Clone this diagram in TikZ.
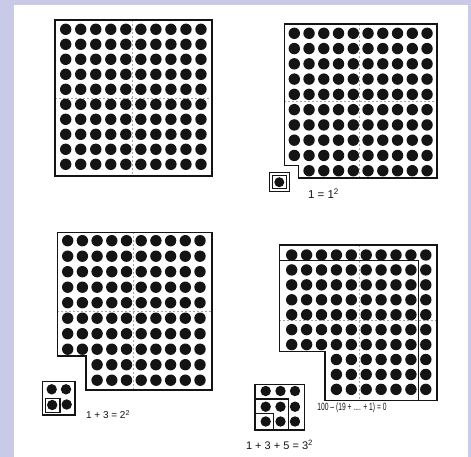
\documentclass[tikz,border=0pt]{standalone}
\usepackage{graphicx}
\usepackage{fontspec}
\setmainfont{Liberation Sans}
\definecolor{lav}{HTML}{C8CAE8}
\definecolor{ink}{HTML}{141414}
\tikzset{
  outline/.style={ink, line width=1.5pt, line join=miter},
  guide/.style={gray!70, line width=0.7pt, dash pattern=on 2pt off 2pt},
  thin/.style={ink, line width=1.1pt},
  lbl/.style={inner sep=0pt, text=ink}
}
\newcommand{\dotgrid}[6]{%
  \foreach \i in {0,...,9}{\foreach \j in {0,...,9}{%
    \pgfmathtruncatemacro{\skp}{(\i<#5)&&(\j>#6)}%
    \ifnum\skp=0 \fill[ink] (#1+\i*#3,#2+\j*#4) circle[radius=5.7pt];\fi}}}
\begin{document}
\begin{tikzpicture}[x=1pt,y=-1pt]
\useasboundingbox (0,0) rectangle (471,457);
\fill[lav] (0,0) rectangle (471,457);
\fill[white] (14,5) rectangle (468,457);

% Panel 1
\draw[guide] (132.7,20) -- (132.7,176);
\draw[guide] (55,98.3) -- (212,98.3);
\dotgrid{65.7}{29.3}{15.03}{15.0}{0}{9}
\draw[outline] (55,20) rectangle (212,176);

% Panel 2
\draw[guide] (359,24) -- (359,178);
\draw[guide] (284.3,101.7) -- (437,101.7);
\dotgrid{294.3}{33.3}{14.75}{15.27}{1}{8}
\draw[outline] (284.3,24) -- (437,24) -- (437,178) -- (298.3,178) -- (298.3,165.7) -- (284.3,165.7) -- cycle;
\draw[thin] (269.3,172.7) rectangle (289.3,191.7);
\draw[thin] (272.3,175.7) rectangle (286.3,188.7);
\fill[ink] (279.3,182.2) circle[radius=5pt];
\node[lbl, font=\fontsize{11.5}{14}\selectfont] (t1) at (323.5,194) {1 = 1\textsuperscript{2}};

% Panel 3
\draw[guide] (133.3,232.3) -- (133.3,390);
\draw[guide] (57.3,311) -- (212,311);
\dotgrid{67.7}{240.7}{14.7}{15.5}{2}{7}
\draw[outline] (57.3,232.3) -- (212,232.3) -- (212,390) -- (86,390) -- (86,356) -- (57.3,356) -- cycle;
\draw[thin] (42.7,381.7) rectangle (75,415);
\draw[thin] (45.5,398.3) -- (60,398.3) -- (60,412.5) -- (45.5,412.5) -- cycle;
\fill[ink] (51.7,389.3) circle[radius=5.2pt];
\fill[ink] (66,389.3) circle[radius=5.2pt];
\fill[ink] (52.2,405) circle[radius=5.2pt];
\fill[ink] (66.7,404.5) circle[radius=5.2pt];
\node[lbl, font=\fontsize{10}{12}\selectfont] (t2) at (108,414.5) {1 + 3 = 2\textsuperscript{2}};

% Panel 4
\draw[guide] (359,245) -- (359,400.7);
\draw[guide] (279.3,320.7) -- (437,320.7);
\dotgrid{291.7}{255}{14.9}{14.93}{3}{6}
\draw[outline] (279.3,245) -- (437,245) -- (437,400.7) -- (325,400.7) -- (325,351.7) -- (279.3,351.7) -- cycle;
\draw[outline] (279.3,260.5) -- (418.3,260.5) -- (418.3,400.7);
\draw[thin] (255,384.3) rectangle (304.3,430);
\draw[thin] (255,399) -- (288.3,399) -- (288.3,430);
\draw[thin] (255,413.3) -- (273.3,413.3) -- (273.3,430);
\foreach \a in {265.7,280.5,295}{\foreach \b in {391,406.7,421.5}{\fill[ink] (\a,\b) circle[radius=5.2pt];}}
\node[lbl, font=\fontsize{10.5}{12}\selectfont] (t3) at (352,407.5) {\scalebox{0.64}[1]{100 -- (19 + .... + 1) = 0}};
\node[lbl, font=\fontsize{11}{13}\selectfont] (t4) at (279.5,444.5) {1 + 3 + 5 = 3\textsuperscript{2}};
\end{tikzpicture}
\end{document}
